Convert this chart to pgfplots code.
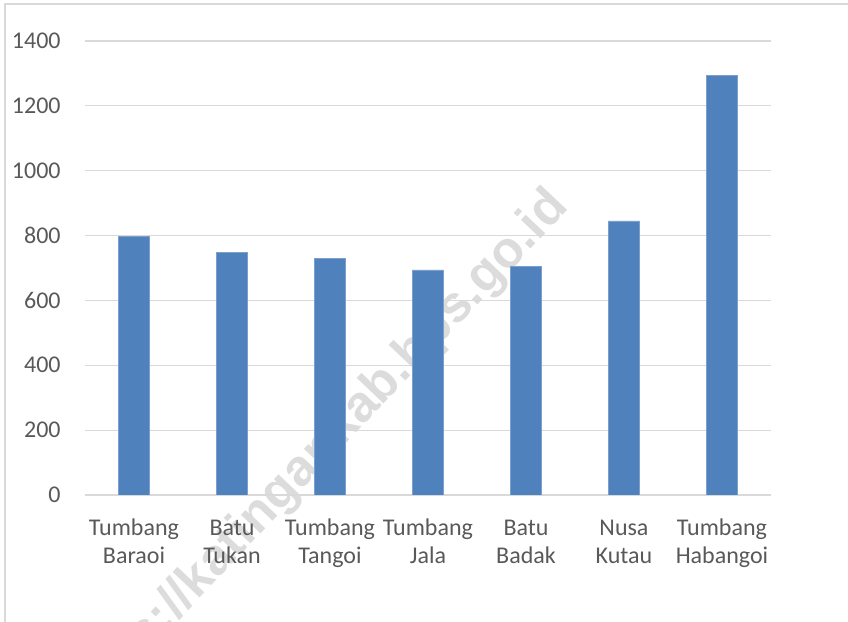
\documentclass[border=0pt]{standalone}
\usepackage{pgfplots}
\pgfplotsset{compat=1.18}
\usepackage{fontspec}
\setmainfont{Carlito}
\newfontfamily\wmfont{Liberation Sans}
\definecolor{barblue}{HTML}{4F81BD}
\definecolor{txtgray}{HTML}{595959}
\definecolor{gridgray}{HTML}{D9D9D9}
\definecolor{wmgray}{HTML}{DCDCDC}
\begin{document}
\begin{tikzpicture}[x=1pt,y=1pt]
\useasboundingbox (0,0) rectangle (424,311);
\draw[gridgray, line width=0.8pt] (2.4,-5) -- (2.4,309) -- (430,309);
\node[rotate=46.5, anchor=base east, text=wmgray, font=\wmfont\bfseries\fontsize{25.6}{30}\selectfont, inner sep=0pt] at (285,207) {https://katingankab.bps.go.id};
\begin{axis}[
  at={(42.5pt,63.5pt)}, anchor=south west,
  scale only axis, width=343pt, height=227pt,
  xmin=-0.5, xmax=6.5, ymin=0, ymax=1400,
  ytick={0,200,...,1400},
  xtick={0,...,6},
  xticklabels={{\strut Tumbang\\\strut Baraoi},{\strut Batu\\\strut Tukan},{\strut Tumbang\\\strut Tangoi},{\strut Tumbang\\\strut Jala},{\strut Batu\\\strut Badak},{\strut Nusa\\\strut Kutau},{\strut Tumbang\\\strut Habangoi}},
  axis line style={draw=none},
  major tick length=0pt,
  ymajorgrids,
  grid style={gridgray, line width=0.6pt},
  yticklabel style={anchor=east, inner sep=0pt, xshift=-12pt, font=\fontsize{12}{14}\selectfont, text=txtgray},
  xticklabel style={anchor=north, align=center, inner sep=0pt, yshift=-9.8pt, font=\fontsize{12}{14.3}\selectfont, text=txtgray},
  /pgf/number format/assume math mode=true,
  /pgf/number format/1000 sep={},
  ybar, bar width=15.5pt,
]
\addplot[fill=barblue, draw=barblue!75!white, line width=0.4pt] coordinates {
  (0,797) (1,749) (2,730) (3,694) (4,706) (5,845) (6,1293)
};
\end{axis}
\end{tikzpicture}
\end{document}
